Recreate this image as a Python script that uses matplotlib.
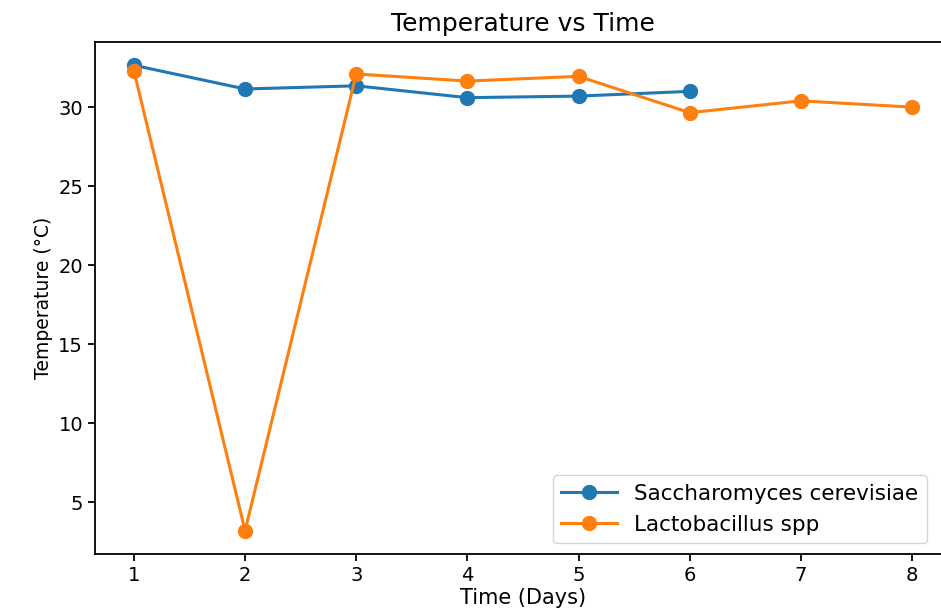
import numpy as np
import matplotlib.pyplot as plt

# days and temperature readings for each organism
days_sacc = [1, 2, 3, 4, 5, 6]
temp_sacc = [32.65, 31.15, 31.35, 30.6, 30.7, 31.0]

days_lacto = [1, 2, 3, 4, 5, 6, 7, 8]
temp_lacto = [32.3, 3.2, 32.1, 31.65, 31.95, 29.65, 30.4, 30.0]

fig = plt.figure(figsize=(9.41, 6.14), dpi=100)
ax = fig.add_axes([95/941, 1 - 554/614, (951 - 95)/941, (554 - 42)/614])

ax.plot(days_sacc, temp_sacc, marker='o', markersize=10, linewidth=2.2,
        color='#1f77b4', label='Saccharomyces cerevisiae')
ax.plot(days_lacto, temp_lacto, marker='o', markersize=10, linewidth=2.2,
        color='#ff7f0e', label='Lactobacillus spp')

ax.set_title('Temperature vs Time', fontsize=18, pad=8)
ax.set_xlabel('Time (Days)', fontsize=15, labelpad=2)
ax.set_ylabel('Temperature (°C)', fontsize=13.5)
ax.tick_params(labelsize=14, width=1.3, length=5)
for s in ax.spines.values():
    s.set_linewidth(1.3)

ax.legend(loc='lower right', fontsize=15.5, bbox_to_anchor=((938 - 95)/856, 0.0),
          bbox_transform=ax.transAxes, borderaxespad=0.5, handlelength=2.6)

plt.savefig('out.png', dpi=100)
